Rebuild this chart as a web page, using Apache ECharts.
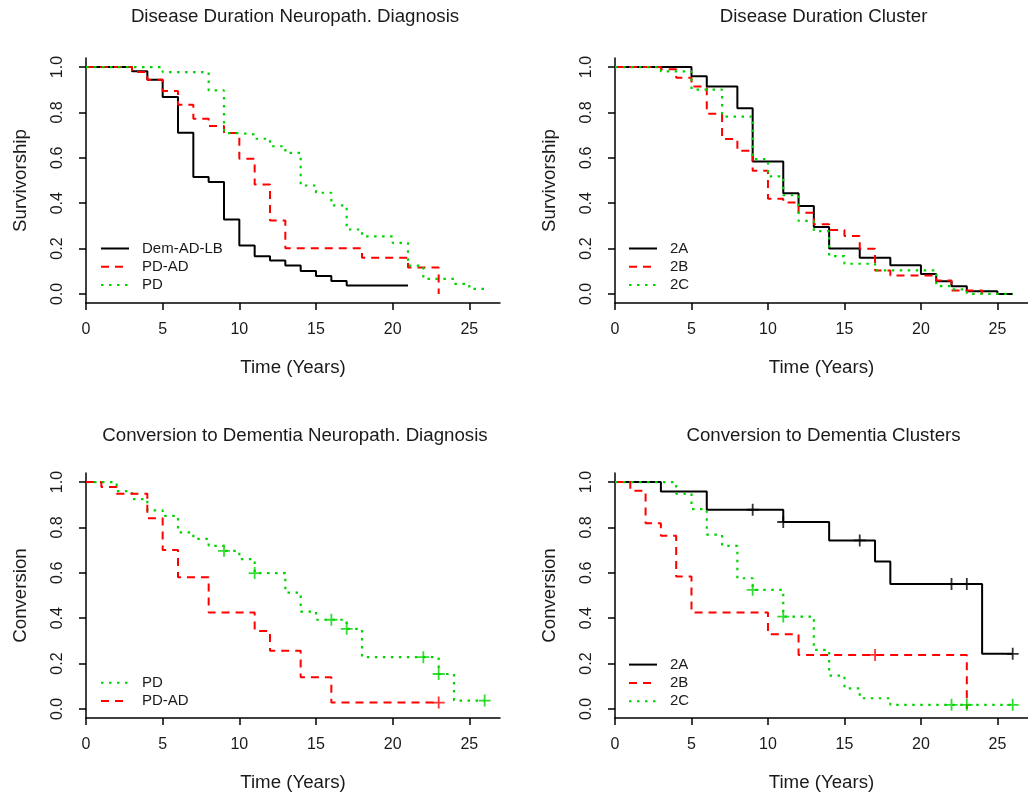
<!DOCTYPE html>
<html>
<head>
<meta charset="utf-8">
<script src="https://cdn.jsdelivr.net/npm/echarts@6/dist/echarts.min.js"></script>
<style>
  html, body { margin: 0; padding: 0; background: #fff; }
  #chart { width: 1028px; height: 798px; }
</style>
</head>
<body>
<div id="chart"></div>
<script>
// Disease Duration Neuropath. Diagnosis
var p1LbT = [0, 3, 4, 5, 6, 7, 8, 9, 10, 11, 12, 13, 14, 15, 16, 17, 21];
var p1LbS = [1, 0.982, 0.944, 0.868, 0.710, 0.515, 0.493, 0.328, 0.213, 0.166, 0.147, 0.125, 0.101, 0.079, 0.057, 0.037, 0.037];
var p1AdT = [0, 3, 4, 5, 6, 7, 8, 9, 10, 11, 12, 13, 18, 21, 23];
var p1AdS = [1, 0.978, 0.944, 0.894, 0.834, 0.772, 0.740, 0.709, 0.596, 0.482, 0.324, 0.201, 0.159, 0.116, 0];
var p1PdT = [0, 5, 8, 9, 10, 11, 12, 13, 14, 15, 16, 17, 18, 20, 21, 22, 24, 25, 26];
var p1PdS = [1, 0.978, 0.897, 0.709, 0.703, 0.684, 0.651, 0.622, 0.478, 0.446, 0.390, 0.284, 0.254, 0.225, 0.125, 0.066, 0.044, 0.022, 0.015];

// Disease Duration Cluster
var p2AT = [0, 5, 6, 8, 9, 11, 12, 13, 14, 16, 18, 20, 21, 22, 23, 25, 26];
var p2AS = [1, 0.960, 0.914, 0.819, 0.584, 0.444, 0.388, 0.295, 0.200, 0.159, 0.126, 0.088, 0.056, 0.034, 0.012, 0, 0];
var p2BT = [0, 3, 4, 5, 6, 7, 8, 9, 10, 11, 12, 13, 14, 15, 16, 17, 18, 21, 22, 24];
var p2BS = [1, 0.99, 0.953, 0.914, 0.794, 0.683, 0.631, 0.543, 0.420, 0.403, 0.358, 0.307, 0.282, 0.255, 0.199, 0.103, 0.081, 0.059, 0.015, 0];
var p2CT = [0, 3, 5, 7, 9, 10, 11, 12, 13, 14, 15, 17, 21, 22, 23, 26];
var p2CS = [1, 0.981, 0.901, 0.782, 0.594, 0.518, 0.435, 0.322, 0.277, 0.167, 0.133, 0.104, 0.034, 0.02, 0, 0];

// Conversion to Dementia Neuropath. Diagnosis
var p3PdT = [0, 2, 3, 4, 5, 6, 7, 8, 9, 10, 11, 13, 14, 15, 17, 18, 23, 24, 26];
var p3PdS = [1, 0.96, 0.925, 0.875, 0.851, 0.778, 0.75, 0.719, 0.697, 0.66, 0.599, 0.513, 0.429, 0.393, 0.353, 0.228, 0.154, 0.037, 0.037];
var p3PdCensT = [9, 11, 16, 17, 22, 23, 26];
var p3PdCensS = [0.697, 0.599, 0.393, 0.353, 0.228, 0.154, 0.037];
var p3AdT = [0, 1, 2, 4, 5, 6, 8, 11, 12, 14, 16, 23];
var p3AdS = [1, 0.978, 0.949, 0.841, 0.701, 0.581, 0.425, 0.344, 0.256, 0.14, 0.028, 0.028];
var p3AdCensT = [23];
var p3AdCensS = [0.028];

// Conversion to Dementia Clusters
var p4AT = [0, 3, 6, 11, 14, 17, 18, 24, 26];
var p4AS = [1, 0.959, 0.878, 0.824, 0.743, 0.65, 0.551, 0.243, 0.243];
var p4ACensT = [9, 11, 16, 22, 23, 26];
var p4ACensS = [0.878, 0.824, 0.743, 0.551, 0.551, 0.243];
var p4BT = [0, 1, 2, 3, 4, 5, 10, 12, 23];
var p4BS = [1, 0.962, 0.819, 0.763, 0.584, 0.425, 0.329, 0.238, 0];
var p4BCensT = [17];
var p4BCensS = [0.238];
var p4CT = [0, 4, 5, 6, 7, 8, 9, 11, 13, 14, 15, 16, 18, 26];
var p4CS = [1, 0.949, 0.881, 0.768, 0.719, 0.576, 0.525, 0.407, 0.26, 0.147, 0.091, 0.047, 0.018, 0.018];
var p4CCensT = [9, 11, 22, 23, 26];
var p4CCensS = [0.525, 0.407, 0.018, 0.018, 0.018];

var xTicks = [0, 5, 10, 15, 20, 25];
var yTicks = [0, 0.2, 0.4, 0.6, 0.8, 1.0];

var BLACK = '#000000', RED = '#ff0000', GREEN = '#00d400';
var FONT = 'Liberation Sans, Arial, sans-serif';
var txt = '#1a1a1a';

function pairs(t, s) {
  var out = [];
  for (var i = 0; i < t.length; i++) out.push([t[i], s[i]]);
  return out;
}

var styles = {
  solid: { color: BLACK, type: 'solid', width: 2 },
  dashed: { color: RED, type: [8, 6], width: 2 },
  dotted: { color: GREEN, type: [2.5, 5.5], width: 2.2 }
};

function km(name, idx, t, s, st) {
  return {
    name: name, type: 'line', step: 'end', xAxisIndex: idx, yAxisIndex: idx,
    symbol: 'none', silent: true, animation: false,
    lineStyle: styles[st], itemStyle: { color: styles[st].color },
    data: pairs(t, s), z: 3
  };
}

// "+" censor mark
var plusPath = 'path://M4.25,0 H5.75 V4.25 H10 V5.75 H5.75 V10 H4.25 V5.75 H0 V4.25 H4.25 Z';
function cens(name, idx, t, s, color) {
  return {
    name: name, type: 'scatter', xAxisIndex: idx, yAxisIndex: idx,
    symbol: plusPath, symbolSize: 12, silent: true, animation: false,
    itemStyle: { color: color }, data: pairs(t, s), z: 4
  };
}

// plot regions (pixels)
var grids = [
  { left: 86, top: 58, width: 414, height: 245 },
  { left: 615, top: 58, width: 413, height: 245 },
  { left: 86, top: 473, width: 414, height: 245 },
  { left: 615, top: 473, width: 413, height: 245 }
];
var yNames = ['Survivorship', 'Survivorship', 'Conversion', 'Conversion'];
var titles = ['Disease Duration Neuropath. Diagnosis', 'Disease Duration Cluster',
  'Conversion to Dementia Neuropath. Diagnosis', 'Conversion to Dementia Clusters'];

var xAxes = [], yAxes = [], titleOpts = [];
grids.forEach(function (g, i) {
  xAxes.push({
    gridIndex: i, type: 'value', min: 0, max: 27,
    name: 'Time (Years)', nameLocation: 'middle', nameGap: 55,
    nameTextStyle: { fontFamily: FONT, fontSize: 18.7, color: txt },
    axisLine: { onZero: false, lineStyle: { color: '#000', width: 1.5 } },
    axisTick: { show: true, length: 7, customValues: xTicks, lineStyle: { color: '#000', width: 1.5 } },
    axisLabel: { customValues: xTicks, margin: 19, fontFamily: FONT, fontSize: 16, color: txt },
    splitLine: { show: false }
  });
  yAxes.push({
    gridIndex: i, type: 'value', min: -0.04, max: 1.04,
    name: yNames[i], nameLocation: 'middle', nameGap: 56, nameRotate: 90,
    nameTextStyle: { fontFamily: FONT, fontSize: 18.7, color: txt },
    axisLine: { show: true, onZero: false, lineStyle: { color: '#000', width: 1.5 } },
    axisTick: { show: true, length: 7, customValues: yTicks, lineStyle: { color: '#000', width: 1.5 } },
    axisLabel: { customValues: yTicks, rotate: 90, margin: 20, fontFamily: FONT, fontSize: 16, color: txt,
      formatter: function (v) { return v.toFixed(1); } },
    splitLine: { show: false }
  });
  titleOpts.push({
    text: titles[i], left: g.left + g.width / 2 + 2, top: i < 2 ? 7 : 426,
    textAlign: 'center', padding: 0,
    textStyle: { fontFamily: FONT, fontSize: 18.7, fontWeight: 'normal', color: txt }
  });
});

function legend(left, top, names) {
  return {
    orient: 'vertical', left: left, top: top, padding: 0,
    itemWidth: 28, itemHeight: 14, itemGap: 0.3, selectedMode: false,
    itemStyle: { color: 'rgba(0,0,0,0)', borderWidth: 0, opacity: 0 },
    data: names,
    textStyle: { fontFamily: FONT, fontSize: 15, lineHeight: 18, color: txt, padding: [0, 0, 0, 8] }
  };
}

var option = {
  backgroundColor: '#fff',
  animation: false,
  title: titleOpts,
  grid: grids,
  xAxis: xAxes,
  yAxis: yAxes,
  legend: [
    legend(100, 239.5, ['Dem-AD-LB', 'PD-AD', 'PD']),
    legend(628, 239.5, ['2A', '2B', '2C']),
    legend(100, 673.8, ['PD', 'PD-AD']),
    legend(628, 655.6, ['2A', '2B', '2C'])
  ],
  series: [
    km('Dem-AD-LB', 0, p1LbT, p1LbS, 'solid'),
    km('PD-AD', 0, p1AdT, p1AdS, 'dashed'),
    km('PD', 0, p1PdT, p1PdS, 'dotted'),

    km('2A', 1, p2AT, p2AS, 'solid'),
    km('2B', 1, p2BT, p2BS, 'dashed'),
    km('2C', 1, p2CT, p2CS, 'dotted'),

    km('PD', 2, p3PdT, p3PdS, 'dotted'),
    km('PD-AD', 2, p3AdT, p3AdS, 'dashed'),
    cens('PD censored', 2, p3PdCensT, p3PdCensS, GREEN),
    cens('PD-AD censored', 2, p3AdCensT, p3AdCensS, RED),

    km('2A', 3, p4AT, p4AS, 'solid'),
    km('2B', 3, p4BT, p4BS, 'dashed'),
    km('2C', 3, p4CT, p4CS, 'dotted'),
    cens('2A censored', 3, p4ACensT, p4ACensS, BLACK),
    cens('2B censored', 3, p4BCensT, p4BCensS, RED),
    cens('2C censored', 3, p4CCensT, p4CCensS, GREEN)
  ]
};

var chart = echarts.init(document.getElementById('chart'), null, { renderer: 'canvas' });
chart.setOption(option);
</script>
</body>
</html>
